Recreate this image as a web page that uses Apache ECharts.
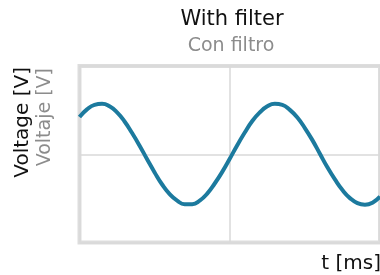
<!DOCTYPE html>
<html>
<head>
<meta charset="utf-8">
<script src="https://cdn.jsdelivr.net/npm/echarts@6.0.0/dist/echarts.min.js"></script>
<style>
  html, body { margin: 0; padding: 0; background: #fff; }
  #chart { width: 380px; height: 275px; }
</style>
</head>
<body>
<div id="chart"></div>
<script>
// valores (t en ms, voltaje en V), cada 0.5 ms
const timeMs = [0, 0.5, 1, 1.5, 2, 2.5, 3, 3.5, 4, 4.5, 5, 5.5, 6, 6.5, 7, 7.5, 8, 8.5, 9, 9.5,
  10, 10.5, 11, 11.5, 12, 12.5, 13, 13.5, 14, 14.5, 15, 15.5, 16, 16.5, 17, 17.5, 18, 18.5, 19, 19.5, 20]
const voltage = [0.74, 0.89, 0.98, 1.0, 0.95, 0.83, 0.65, 0.42, 0.17, -0.1, -0.36, -0.6, -0.79, -0.92,
  -0.99, -0.99, -0.92, -0.78, -0.58, -0.35, -0.09, 0.18, 0.43, 0.66, 0.83, 0.95, 1.0, 0.98, 0.88, 0.73,
  0.52, 0.28, 0.01, -0.26, -0.5, -0.71, -0.87, -0.97, -1.0, -0.96, -0.84]

// textos
const titleEn = 'With filter'
const titleEs = 'Con filtro'
const yNameEn = 'Voltage [V]'
const yNameEs = 'Voltaje [V]'
const xName = 't [ms]'

const font = 'DejaVu Sans'
const chart = echarts.init(document.getElementById('chart'))

chart.setOption({
  animation: false,
  grid: {
    left: 79.5,
    top: 66,
    width: 303.5,
    height: 176.5,
    show: true,
    borderColor: '#dddddd',
    borderWidth: 4
  },
  xAxis: {
    type: 'value',
    min: 0,
    max: 20,
    interval: 10,
    axisLine: { show: false },
    axisTick: { show: false },
    axisLabel: { show: false },
    splitLine: { lineStyle: { color: '#d9d9d9', width: 1.5 } }
  },
  yAxis: {
    type: 'value',
    min: -1.75,
    max: 1.75,
    interval: 1.75,
    axisLine: { show: false },
    axisTick: { show: false },
    axisLabel: { show: false },
    splitLine: { lineStyle: { color: '#d9d9d9', width: 1.5 } }
  },
  series: [{
    type: 'line',
    smooth: true,
    showSymbol: false,
    data: timeMs.map((t, i) => [t, voltage[i]]),
    lineStyle: { color: '#1c7a9e', width: 4 }
  }],
  graphic: [
    {
      type: 'text', x: 232, y: 20,
      style: { text: titleEn, font: '21px "' + font + '"', fill: '#111', textAlign: 'center', textVerticalAlign: 'middle' }
    },
    {
      type: 'text', x: 231, y: 46,
      style: { text: titleEs, font: '19px "' + font + '"', fill: '#8c8c8c', textAlign: 'center', textVerticalAlign: 'middle' }
    },
    {
      type: 'text', x: 23, y: 67, rotation: Math.PI / 2,
      style: { text: yNameEn, font: '20px "' + font + '"', fill: '#111', textAlign: 'right', textVerticalAlign: 'middle' }
    },
    {
      type: 'text', x: 45, y: 68, rotation: Math.PI / 2,
      style: { text: yNameEs, font: '19px "' + font + '"', fill: '#8c8c8c', textAlign: 'right', textVerticalAlign: 'middle' }
    },
    {
      type: 'text', x: 381, y: 264,
      style: { text: xName, font: '20px "' + font + '"', fill: '#111', textAlign: 'right', textVerticalAlign: 'middle' }
    }
  ]
})
</script>
</body>
</html>
